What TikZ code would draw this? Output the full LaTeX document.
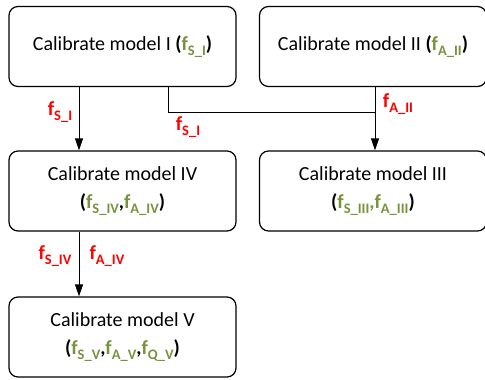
\documentclass[tikz,border=0pt]{standalone}
\usepackage{fontspec}
\setmainfont{Carlito}
\usetikzlibrary{arrows.meta}
\definecolor{fgreen}{HTML}{77933C}
\definecolor{fred}{HTML}{FF0000}
\newcommand{\fsub}[1]{\bfseries f\raisebox{-4.5pt}{\fontsize{14.5}{15}\selectfont #1}}
\newcommand{\gf}[1]{\textcolor{fgreen}{\fsub{#1}}}
\newcommand{\rf}[1]{\textcolor{fred}{\fsub{#1}}}
\tikzset{
  box/.style={draw=black, line width=1.2pt, rounded corners=9pt, minimum width=227pt, minimum height=80pt, align=center, inner sep=0pt, font=\fontsize{20}{28}\selectfont},
  conn/.style={draw=black, line width=1pt},
  arr/.style={conn, -{Triangle[width=8pt,length=12pt]}},
  lbl/.style={font=\fontsize{20}{22}\selectfont, inner sep=0pt}
}
\begin{document}
\begin{tikzpicture}[x=1pt,y=-1pt]
\useasboundingbox (0,0) rectangle (485,380);
\node[box] (m1) at (122.5,46.5) {Calibrate model I {\bfseries(}{\gf{S\_I}}{\bfseries)}};
\node[box] (m2) at (373,46.5) {Calibrate model II {\bfseries(}{\gf{A\_II}}{\bfseries)}};
\node[box] (m4) at (122.5,191) {Calibrate model IV\\{\bfseries(}{\gf{S\_IV}}{\bfseries,}{\gf{A\_IV}}{\bfseries)}};
\node[box] (m3) at (373,191) {Calibrate model III\\{\bfseries(}{\gf{S\_III}}{\bfseries\textcolor{fgreen}{,}}{\gf{A\_III}}{\bfseries)}};
\node[box] (m5) at (122.5,337) {Calibrate model V\\{\bfseries(}{\gf{S\_V}}{\bfseries,}{\gf{A\_V}}{\bfseries,}{\gf{Q\_V}}{\bfseries)}};
\coordinate (j1) at (168,112);
\coordinate (j2) at (375,112);
\draw[arr] (m1.south -| 79,0) -- (m4.north -| 79,0);
\draw[arr] (m2.south -| j2) -- (m3.north -| j2);
\draw[conn] (m1.south -| j1) -- (j1) -- (j2);
\draw[arr] (m4.south -| 79,0) -- (m5.north -| 79,0);
\node[lbl] (l1) at (60,112) {\rf{S\_I}};
\node[lbl] (l2) at (188,127) {\rf{S\_I}};
\node[lbl] (l3) at (398,104) {\rf{A\_II}};
\node[lbl] (l4) at (55,256) {\rf{S\_IV}};
\node[lbl] (l5) at (107,256) {\rf{A\_IV}};
\end{tikzpicture}
\end{document}
